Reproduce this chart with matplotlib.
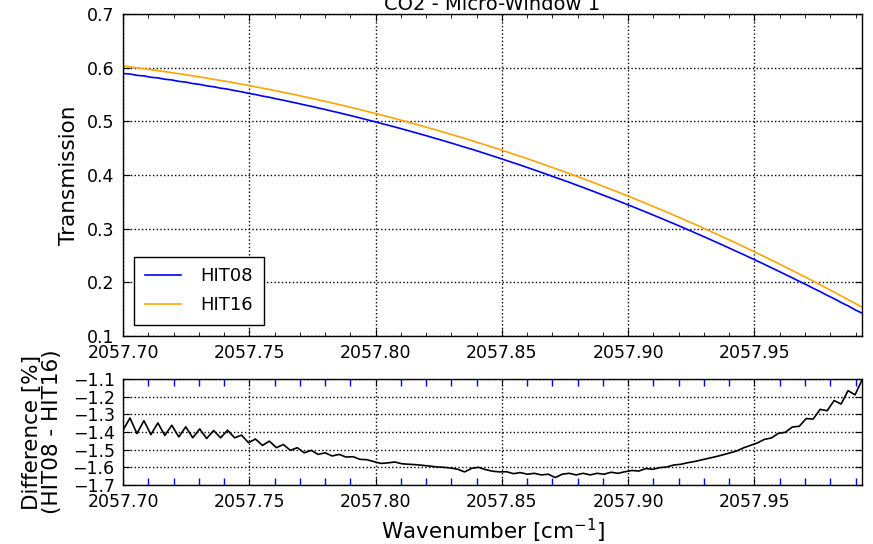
import matplotlib
matplotlib.use("Agg")
import matplotlib.pyplot as plt
from matplotlib.ticker import MultipleLocator, FormatStrFormatter
import numpy as np

# wavenumber grid [cm-1]
wn = [2057.70000, 2057.70276, 2057.70552, 2057.70828, 2057.71104, 2057.71380,
      2057.71656, 2057.71932, 2057.72208, 2057.72484, 2057.72760, 2057.73036,
      2057.73312, 2057.73588, 2057.73864, 2057.74140, 2057.74416, 2057.74692,
      2057.74968, 2057.75244, 2057.75520, 2057.75796, 2057.76072, 2057.76348,
      2057.76624, 2057.76900, 2057.77176, 2057.77452, 2057.77728, 2057.78004,
      2057.78280, 2057.78556, 2057.78832, 2057.79108, 2057.79384, 2057.79660,
      2057.79936, 2057.80212, 2057.80488, 2057.80764, 2057.81040, 2057.81316,
      2057.81592, 2057.81868, 2057.82144, 2057.82420, 2057.82696, 2057.82972,
      2057.83248, 2057.83524, 2057.83800, 2057.84076, 2057.84352, 2057.84628,
      2057.84904, 2057.85180, 2057.85456, 2057.85732, 2057.86008, 2057.86284,
      2057.86560, 2057.86836, 2057.87112, 2057.87388, 2057.87664, 2057.87940,
      2057.88216, 2057.88492, 2057.88768, 2057.89044, 2057.89320, 2057.89596,
      2057.89872, 2057.90148, 2057.90424, 2057.90700, 2057.90976, 2057.91252,
      2057.91528, 2057.91804, 2057.92080, 2057.92356, 2057.92632, 2057.92908,
      2057.93184, 2057.93460, 2057.93736, 2057.94012, 2057.94288, 2057.94564,
      2057.94840, 2057.95116, 2057.95392, 2057.95668, 2057.95944, 2057.96220,
      2057.96496, 2057.96772, 2057.97048, 2057.97324, 2057.97600, 2057.97876,
      2057.98152, 2057.98428, 2057.98704, 2057.98980, 2057.99256]

# HIT16 transmission
hit16 = [0.6030, 0.6014, 0.5997, 0.5980, 0.5962, 0.5944, 0.5926, 0.5907,
         0.5887, 0.5868, 0.5847, 0.5826, 0.5805, 0.5783, 0.5761, 0.5739,
         0.5716, 0.5692, 0.5668, 0.5643, 0.5618, 0.5593, 0.5567, 0.5540,
         0.5514, 0.5486, 0.5458, 0.5430, 0.5401, 0.5372, 0.5342, 0.5312,
         0.5281, 0.5250, 0.5218, 0.5185, 0.5153, 0.5119, 0.5086, 0.5051,
         0.5017, 0.4981, 0.4945, 0.4909, 0.4872, 0.4835, 0.4797, 0.4759,
         0.4720, 0.4681, 0.4641, 0.4600, 0.4559, 0.4518, 0.4476, 0.4433,
         0.4390, 0.4347, 0.4303, 0.4258, 0.4213, 0.4167, 0.4121, 0.4074,
         0.4027, 0.3979, 0.3931, 0.3882, 0.3832, 0.3782, 0.3732, 0.3681,
         0.3629, 0.3577, 0.3524, 0.3471, 0.3417, 0.3363, 0.3308, 0.3252,
         0.3196, 0.3139, 0.3082, 0.3024, 0.2966, 0.2907, 0.2848, 0.2788,
         0.2727, 0.2666, 0.2604, 0.2542, 0.2479, 0.2415, 0.2351, 0.2286,
         0.2221, 0.2155, 0.2089, 0.2022, 0.1954, 0.1886, 0.1817, 0.1748,
         0.1678, 0.1607, 0.1536]

# HIT08 - HIT16 difference [%]
diff = [-1.390, -1.321, -1.409, -1.336, -1.415, -1.349, -1.420, -1.362,
        -1.428, -1.371, -1.433, -1.383, -1.437, -1.392, -1.433, -1.390,
        -1.433, -1.418, -1.461, -1.440, -1.476, -1.452, -1.489, -1.471,
        -1.504, -1.489, -1.518, -1.504, -1.527, -1.518, -1.536, -1.527,
        -1.542, -1.540, -1.555, -1.557, -1.568, -1.578, -1.575, -1.570,
        -1.580, -1.583, -1.585, -1.589, -1.593, -1.598, -1.600, -1.604,
        -1.611, -1.626, -1.606, -1.600, -1.613, -1.622, -1.626, -1.625,
        -1.636, -1.630, -1.639, -1.634, -1.643, -1.639, -1.658, -1.639,
        -1.634, -1.643, -1.634, -1.643, -1.634, -1.639, -1.628, -1.634,
        -1.625, -1.618, -1.621, -1.607, -1.611, -1.602, -1.598, -1.587,
        -1.583, -1.574, -1.567, -1.558, -1.549, -1.540, -1.530, -1.519,
        -1.508, -1.490, -1.476, -1.462, -1.442, -1.434, -1.408, -1.402,
        -1.372, -1.368, -1.324, -1.327, -1.272, -1.280, -1.222, -1.242,
        -1.166, -1.190, -1.106]

hit08 = np.array(hit16) + np.array(diff) / 100.0

plt.rcParams.update({
    "font.family": "DejaVu Sans",
    "font.size": 12.5,
    "mathtext.fontset": "dejavusans",
    "xtick.direction": "in",
    "ytick.direction": "in",
    "xtick.top": True,
    "ytick.right": True,
    "xtick.major.size": 5,
    "xtick.minor.size": 3,
    "ytick.major.size": 5,
    "ytick.minor.size": 3,
    "xtick.major.pad": 6,
    "ytick.major.pad": 6,
    "axes.linewidth": 1.0,
    "grid.color": "black",
    "grid.linestyle": ":",
    "grid.linewidth": 1.0,
})

fig = plt.figure(figsize=(8.73, 5.44), dpi=100)
ax1 = fig.add_axes([0.1409, 0.3824, 0.8465, 0.5919])
ax2 = fig.add_axes([0.1409, 0.1085, 0.8465, 0.1949])

ax1.plot(wn, hit08, color="#0000ff", lw=1.2, label="HIT08")
ax1.plot(wn, hit16, color="orange", lw=1.2, label="HIT16")
ax1.set_xlim(wn[0], wn[-1])
ax1.set_ylim(0.1, 0.7)
ax1.xaxis.set_major_locator(MultipleLocator(0.05))
ax1.xaxis.set_minor_locator(MultipleLocator(0.01))
ax1.xaxis.set_major_formatter(FormatStrFormatter("%.2f"))
ax1.yaxis.set_major_locator(MultipleLocator(0.1))
ax1.grid(True, which="major")
ax1.set_ylabel("Transmission", fontsize=15.5)
ax1.yaxis.set_label_coords(-0.06, 0.5)
ax1.set_title("CO2 - Micro-Window 1", fontsize=14, pad=2)
leg = ax1.legend(loc="lower left", fancybox=False, framealpha=1,
                 edgecolor="black", handlelength=2.0, borderpad=0.6,
                 labelspacing=0.6, handletextpad=1.1, fontsize=13,
                 borderaxespad=0.6)
leg.get_frame().set_linewidth(1.0)

ax2.plot(wn, diff, color="black", lw=1.2)
ax2.set_xlim(wn[0], wn[-1])
ax2.set_ylim(-1.7, -1.1)
ax2.xaxis.set_major_locator(MultipleLocator(0.05))
ax2.xaxis.set_minor_locator(MultipleLocator(0.01))
ax2.xaxis.set_major_formatter(FormatStrFormatter("%.2f"))
ax2.yaxis.set_major_locator(MultipleLocator(0.1))
ax2.tick_params(axis="x", which="minor", color="blue", width=1.0, length=5)
ax2.grid(True, which="major")
ax2.set_xlabel("Wavenumber [cm$^{-1}$]", fontsize=15.5)
ax2.set_ylabel("Difference [%]\n(HIT08 - HIT16)", fontsize=15.5,
               linespacing=1.0)
ax2.yaxis.set_label_coords(-0.083, 0.5)

fig.savefig("out.png", dpi=100, facecolor="white")
